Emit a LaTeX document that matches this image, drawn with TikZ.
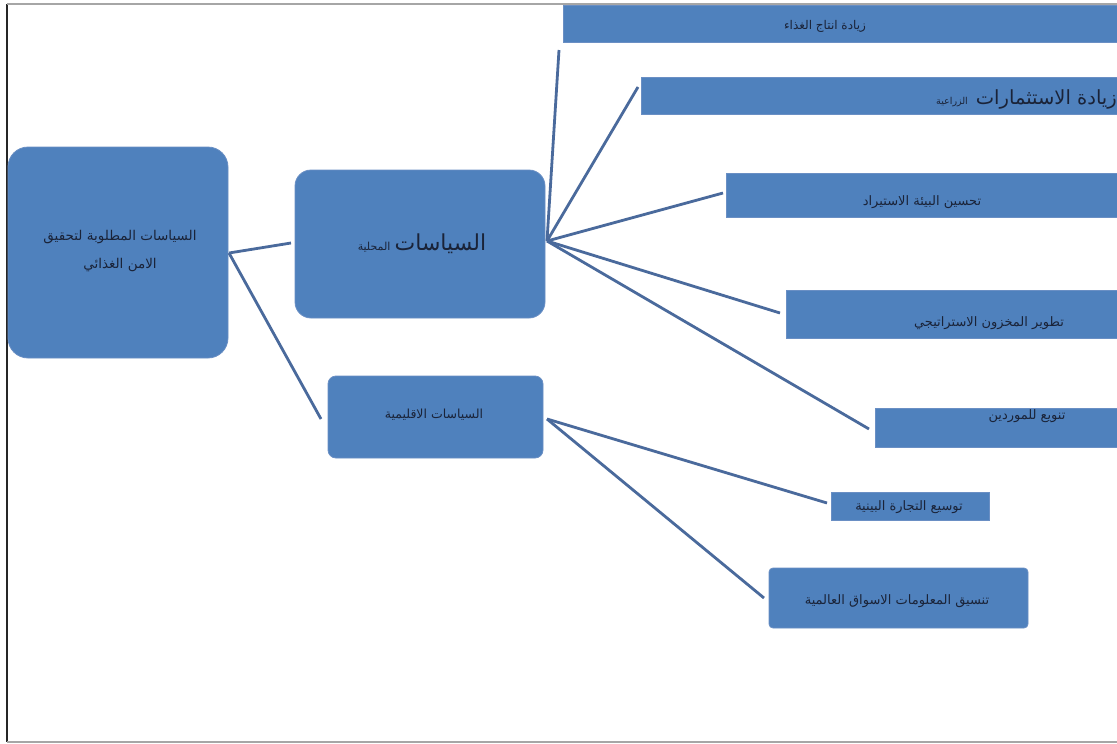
\documentclass[tikz,border=0pt]{standalone}
\usepackage{fontspec}
\newfontfamily\arabicfont[Script=Arabic]{DejaVu Sans}
\TeXXeTstate=1
\definecolor{boxblue}{HTML}{4F81BD}
\definecolor{boxedge}{HTML}{6A8FC4}
\definecolor{linkcol}{HTML}{4A6A9C}
\definecolor{txtcol}{HTML}{1A2338}
\tikzset{
  box/.style={draw=boxedge, line width=0.8pt, fill=boxblue, inner sep=0pt},
  lbl/.style={text=txtcol, inner sep=0pt, font=\arabicfont\fontsize{13}{28}\selectfont, align=center},
  link/.style={draw=linkcol, line width=2.8pt},
}
\begin{document}
\begin{tikzpicture}[x=1pt,y=-1pt]
\useasboundingbox (0,0) rectangle (1117,744);
\clip (0,0) rectangle (1117,744);
\fill[white] (0,0) rectangle (1117,744);
% frame
\draw[black!85, line width=1.6pt] (7,4) -- (7,742);
\draw[gray!70, line width=1.6pt] (7,4) -- (1117,4);
\draw[gray!70, line width=1.6pt] (7,742) -- (1117,742);

% boxes
\node[box, rounded corners=20pt, minimum width=220pt, minimum height=211pt] (root) at (118,252.5) {};
\node[box, rounded corners=16pt, minimum width=250pt, minimum height=148pt] (local) at (420,244) {};
\node[box, rounded corners=8pt, minimum width=215pt, minimum height=82pt] (reg) at (435.5,417) {};

\node[box, minimum width=570pt, minimum height=37pt, anchor=west] (a1) at (563,23.5) {};
\node[box, minimum width=490pt, minimum height=37pt, anchor=west] (a2) at (641,95.5) {};
\node[box, minimum width=400pt, minimum height=44pt, anchor=west] (a3) at (726,195) {};
\node[box, minimum width=340pt, minimum height=48pt, anchor=west] (a4) at (786,314) {};
\node[box, minimum width=250pt, minimum height=39pt, anchor=west] (a5) at (875,427.5) {};
\node[box, minimum width=158pt, minimum height=28pt] (b1) at (910,506) {};
\node[box, rounded corners=4pt, minimum width=259pt, minimum height=60pt] (b2) at (898.5,598) {};

% connector anchor points
\coordinate (rootR) at (229,253);
\coordinate (localL) at (291,243);
\coordinate (regL) at (321,419);
\coordinate (localR) at (547,241);
\coordinate (a1L) at (559,50);
\coordinate (a2L) at (638,87);
\coordinate (a3L) at (723,193);
\coordinate (a4L) at (780,313);
\coordinate (a5L) at (869,429);
\coordinate (regR) at (547,419);
\coordinate (b1L) at (827,503);
\coordinate (b2L) at (764,598);

\draw[link] (rootR) -- (localL);
\draw[link] (rootR) -- (regL);
\draw[link] (localR) -- (a1L);
\draw[link] (localR) -- (a2L);
\draw[link] (localR) -- (a3L);
\draw[link] (localR) -- (a4L);
\draw[link] (localR) -- (a5L);
\draw[link] (regR) -- (b1L);
\draw[link] (regR) -- (b2L);

% labels
\node[lbl, font=\arabicfont\fontsize{13.5}{28}\selectfont] (troot) at (120,251) {\beginR السياسات المطلوبة لتحقيق\endR\\\beginR الامن الغذائي\endR};
\node[lbl] (tlocal) at (422,244) {\beginR{\fontsize{22}{26}\selectfont السياسات} {\fontsize{11}{14}\selectfont المحلية}\endR};
\node[lbl, font=\arabicfont\fontsize{12.5}{16}\selectfont] (treg) at (434,415) {\beginR السياسات الاقليمية\endR};
\node[lbl, font=\arabicfont\fontsize{12}{16}\selectfont] (ta1) at (825,26) {\beginR زيادة انتاج الغذاء\endR};
\node[lbl, anchor=east] (ta2) at (1117,99) {\beginR{\fontsize{19.5}{22}\selectfont زيادة الاستثمارات}\hspace{8pt}{\fontsize{9.5}{14}\selectfont الزراعية}\endR};
\node[lbl] (ta3) at (922,202) {\beginR تحسين البيئة الاستيراد\endR};
\node[lbl] (ta4) at (989,323) {\beginR تطوير المخزون الاستراتيجي\endR};
\node[lbl] (ta5) at (1027,416) {\beginR تنويع للموردين\endR};
\node[lbl] (tb1) at (909,507) {\beginR توسيع التجارة البينية\endR};
\node[lbl] (tb2) at (897,601) {\beginR تنسيق المعلومات الاسواق العالمية\endR};
\end{tikzpicture}
\end{document}
